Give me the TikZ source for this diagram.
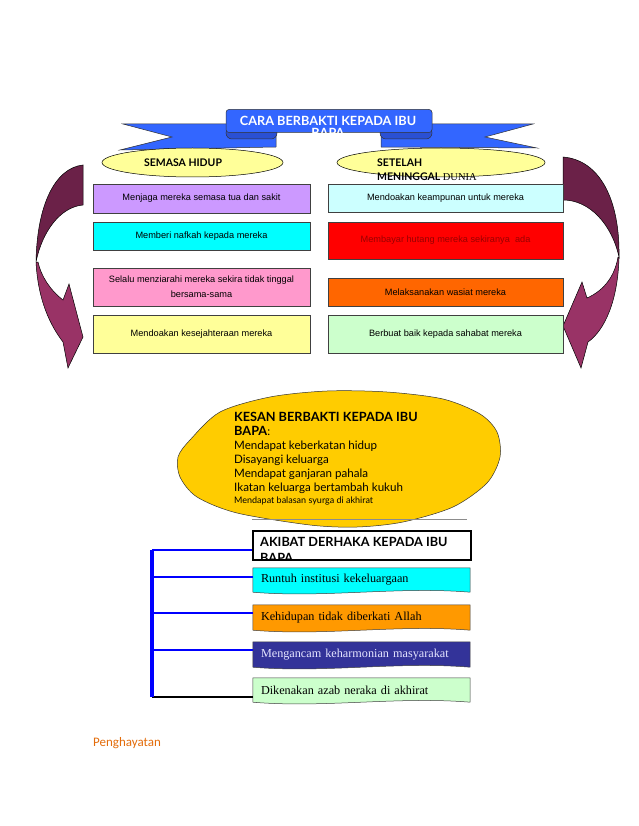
\documentclass[tikz,border=0pt]{standalone}
\usepackage{fontspec}
\setmainfont{Liberation Sans}
\newfontfamily\gillfont{Lato}
\newfontfamily\timesfont{Liberation Serif}
\newfontfamily\califont{Carlito}
\usetikzlibrary{shapes.geometric,backgrounds}
\definecolor{bannerBlue}{HTML}{3366FF}
\definecolor{bannerDark}{HTML}{2A50D4}
\definecolor{pillYellow}{HTML}{FFFF99}
\definecolor{arrowDark}{HTML}{6B2148}
\definecolor{arrowPlum}{HTML}{993366}
\definecolor{hPurple}{HTML}{CC99FF}
\definecolor{hCyan}{HTML}{00FFFF}
\definecolor{hPink}{HTML}{FF99CC}
\definecolor{hYellow}{HTML}{FFFF99}
\definecolor{dCyan}{HTML}{CCFFFF}
\definecolor{dRed}{HTML}{FF0000}
\definecolor{dRedText}{HTML}{990000}
\definecolor{dOrange}{HTML}{FF6600}
\definecolor{dGreen}{HTML}{CCFFCC}
\definecolor{kesanGold}{HTML}{FFCC00}
\definecolor{aCyan}{HTML}{00FFFF}
\definecolor{aOrange}{HTML}{FF9900}
\definecolor{aNavy}{HTML}{333399}
\definecolor{aGreen}{HTML}{CCFFCC}
\definecolor{bracketBlue}{HTML}{0000FF}
\definecolor{footOrange}{HTML}{E36C0A}
\tikzset{
    bannerBox/.style={draw=black!80, fill=bannerBlue, rounded corners=3pt,
                      minimum width=206pt, minimum height=23pt, line width=0.5pt},
    bannerTitle/.style={font=\gillfont\bfseries\fontsize{12.7}{12.5}\selectfont,
                        text=white, align=center, inner sep=0pt},
    wing/.style={draw=black!80, fill=bannerBlue, line width=0.5pt},
    curl/.style={draw=black!80, fill=bannerDark, rounded corners=6pt, line width=0.5pt},
    pill/.style={ellipse, draw=black, fill=pillYellow, inner sep=0pt, line width=0.5pt},
    pillText/.style={font=\gillfont\bfseries\fontsize{10.5}{14}\selectfont,
                     align=left, inner sep=0pt},
    hbox/.style={draw=black!75, line width=0.6pt, minimum width=217pt, inner sep=2pt,
                 font=\fontsize{9.2}{15}\selectfont, align=center},
    dbox/.style={hbox, minimum width=235pt},
    arrowPart/.style={draw=black, line width=0.5pt},
    kesanText/.style={font=\gillfont\fontsize{11.6}{14}\selectfont, align=left,
                      inner sep=0pt},
    akibatHead/.style={draw=black, fill=white, line width=2pt,
                       minimum width=218pt, minimum height=29pt},
    akibatBox/.style={minimum width=217pt, text width=201pt, align=left, inner sep=0pt,
                      font=\timesfont\fontsize{12.2}{13}\selectfont},
    docBg/.style={draw=black!75, line width=0.5pt},
    brLine/.style={bracketBlue, line width=2pt},
}

\begin{document}
\begin{tikzpicture}[x=1pt,y=-1pt]
\useasboundingbox (0,0) rectangle (638,826);

% ---------------- BANNER ----------------
\filldraw[wing] (123,124) -- (276,124) -- (276,147) -- (120,150) -- (172,137) -- cycle;
\filldraw[wing] (381,124) -- (533,124) -- (485,137) -- (537,148) -- (381,147) -- cycle;
\filldraw[curl] (226,127) rectangle (277,139);
\filldraw[curl] (380,127) rectangle (432,139);
\node[bannerBox] (banner) at (329,121) {};
\node[bannerTitle, anchor=north] (bannerTitle) at (328,116)
     {CARA BERBAKTI KEPADA IBU\\BAPA};

% ---------------- HEADINGS ----------------
\node[pill, minimum width=181pt, minimum height=29pt] (semasa) at (192.5,162.5) {};
\node[pillText] (semasaTxt) at (183,162.5) {SEMASA HIDUP};
\node[pill, minimum width=208pt, minimum height=29pt] (setelah) at (441,162.5) {};

% ---------------- CURVED ARROWS ----------------
% left side
\filldraw[arrowPart, fill=arrowPlum] (36,262) .. controls (38,300) and (50,325) .. (63,342)
    -- (68,368) -- (83,337) -- (69,284) -- (63,300)
    .. controls (50,290) and (41,276) .. (38,262) -- cycle;
\filldraw[arrowPart, fill=arrowDark] (83,165) .. controls (55,168) and (37,205) .. (36,262)
    .. controls (42,232) and (60,207) .. (83,205) -- cycle;
% right side
\filldraw[arrowPart, fill=arrowPlum] (619,257) .. controls (618,300) and (605,330) .. (588,342)
    -- (581,368) -- (563,326) -- (582,282) -- (587,298)
    .. controls (605,290) and (615,275) .. (618,257) -- cycle;
\filldraw[arrowPart, fill=arrowDark] (563,157) .. controls (600,160) and (620,200) .. (619,257)
    .. controls (612,225) and (590,200) .. (563,200) -- cycle;

% ---------------- SEMASA HIDUP ----------------
\node[hbox, fill=hPurple, minimum height=29pt] (hidup1) at (201.5,198.5)
     {Menjaga mereka semasa tua dan sakit};
\node[hbox, fill=hCyan, minimum height=28pt] (hidup2) at (201.5,236)
     {Memberi nafkah kepada mereka};
\node[hbox, fill=hPink, minimum height=38pt] (hidup3) at (201.5,287)
     {Selalu menziarahi mereka sekira tidak tinggal\\bersama-sama};
\node[hbox, fill=hYellow, minimum height=38pt] (hidup4) at (201.5,334)
     {Mendoakan kesejahteraan mereka};

% ---------------- SETELAH MENINGGAL DUNIA ----------------
\node[dbox, fill=dCyan, minimum height=28pt] (dunia1) at (445.5,198)
     {Mendoakan keampunan untuk mereka};
\node[dbox, fill=dRed, minimum height=37pt, text=dRedText] (dunia2) at (445.5,240.5)
     {Membayar hutang mereka sekiranya\ \ ada};
\node[dbox, fill=dOrange, minimum height=28pt] (dunia3) at (445.5,292)
     {Melaksanakan wasiat mereka};
\node[dbox, fill=dGreen, minimum height=38pt] (dunia4) at (445.5,334)
     {Berbuat baik kepada sahabat mereka};
\node[pillText, anchor=north west] (setelahTxt) at (377,159)
     {SETELAH\\MENINGGAL {\mdseries\timesfont DUNIA}};

% ---------------- KESAN ----------------
\filldraw[draw=black!80, fill=kesanGold, line width=0.5pt] plot[smooth cycle] coordinates
    {(327,391) (387,392) (443,399) (480,414) (497,432) (500,457) (487,483) (453,507)
     (403,522) (357,527) (310,525) (237,513) (197,497) (180,477) (178,457) (190,440)
     (220,412) (270,397)};
\node[kesanText, anchor=north west] (kesan) at (234,412)
     {\textbf{\fontsize{12.7}{14}\selectfont KESAN BERBAKTI KEPADA IBU}\\
      \textbf{\fontsize{12.7}{14}\selectfont BAPA}:\\
      Mendapat keberkatan hidup\\
      Disayangi keluarga\\
      Mendapat ganjaran pahala\\
      Ikatan keluarga bertambah kukuh\\[-2pt]
      {\fontsize{9}{10}\selectfont Mendapat balasan syurga di akhirat}};
\draw[black!45, line width=0.6pt] (252,519) -- (467,519);

% ---------------- AKIBAT ----------------
\node[akibatHead] (akibat) at (362,545.5) {};
\begin{scope}
  \clip ([shift={(1pt,-1pt)}]akibat.north west) rectangle ([shift={(-1pt,1pt)}]akibat.south east);
  \node[bannerTitle, text=black, align=left, anchor=north west,
        font=\gillfont\bfseries\fontsize{12.7}{16}\selectfont]
       (akibatTxt) at (260,537) {AKIBAT DERHAKA KEPADA IBU\\BAPA};
\end{scope}

\node[akibatBox, minimum height=24pt] (akibat1) at (361.5,580) {Runtuh institusi kekeluargaan};
\node[akibatBox, minimum height=25pt] (akibat2) at (361.5,617.5) {Kehidupan tidak diberkati Allah};
\node[akibatBox, minimum height=25pt, text=white!90!blue] (akibat3) at (361.5,654.5)
     {Mengancam keharmonian masyarakat};
\node[akibatBox, minimum height=24pt] (akibat4) at (361.5,690) {Dikenakan azab neraka di akhirat};
\begin{pgfonlayer}{background}
  \foreach \n/\c in {akibat1/aCyan, akibat2/aOrange, akibat3/aNavy, akibat4/aGreen}
    \filldraw[docBg, fill=\c] (\n.north west) -- (\n.north east) -- (\n.south east)
      .. controls +(-72,-6) and +(72,6) .. (\n.south west) -- cycle;
\end{pgfonlayer}

% bracket
\coordinate (br0) at (152,550);
\coordinate (br1) at (152,577);
\coordinate (br2) at (152,613);
\coordinate (br3) at (152,650);
\coordinate (br4) at (152,697);
\draw[brLine] (br0) -- (br0 -| akibat.west);
\draw[brLine] (br1) -- (br1 -| akibat1.west);
\draw[brLine] (br2) -- (br2 -| akibat2.west);
\draw[brLine] (br3) -- (br3 -| akibat3.west);
\draw[black, line width=2pt] (br4) -- (br4 -| akibat4.west);
\draw[bracketBlue, line width=4pt] (br0) -- (br4);

% footer
\node[anchor=west, inner sep=0pt, text=footOrange, font=\califont\fontsize{13}{15}\selectfont]
     (footer) at (93,743) {Penghayatan};

\end{tikzpicture}
\end{document}
